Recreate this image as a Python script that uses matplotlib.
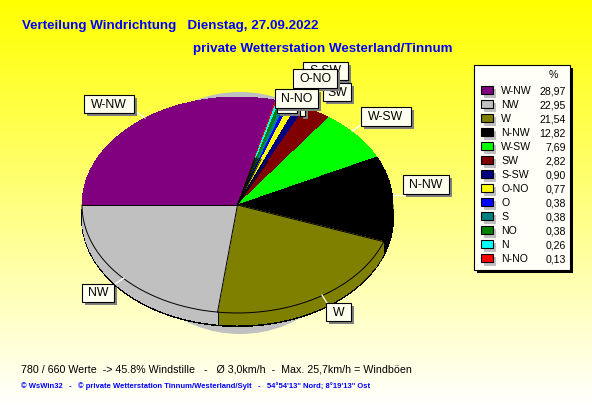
import numpy as np
import matplotlib
matplotlib.use('Agg')
import matplotlib.pyplot as plt
from matplotlib.patches import Rectangle, Ellipse

W, H = 592, 407

directions = ['W-NW', 'NW', 'W', 'N-NW', 'W-SW', 'SW', 'S-SW', 'O-NO', 'O', 'S', 'NO', 'N', 'N-NO']
percent = [28.97, 22.95, 21.54, 12.82, 7.69, 2.82, 0.90, 0.77, 0.38, 0.38, 0.38, 0.26, 0.13]
percent_text = ['28,97', '22,95', '21,54', '12,82', '7,69', '2,82', '0,90', '0,77', '0,38', '0,38', '0,38', '0,26', '0,13']
colors = ['#800080', '#c0c0c0', '#808000', '#000000', '#00ff00', '#800000', '#000080',
          '#ffff00', '#0000ff', '#008080', '#008000', '#00ffff', '#ff0000']

title1 = 'Verteilung Windrichtung   Dienstag, 27.09.2022'
title2 = 'private Wetterstation Westerland/Tinnum'
footer1 = '780 / 660 Werte  -> 45.8% Windstille   -   Ø 3,0km/h  -  Max. 25,7km/h = Windböen'
footer2 = '© WsWin32   -   © private Wetterstation Tinnum/Westerland/Sylt   -   54°54\'13" Nord; 8°19\'13" Ost'

plt.rcParams['font.family'] = ['Liberation Sans', 'DejaVu Sans']

fig = plt.figure(figsize=(W / 100, H / 100), dpi=100)

# background + things behind the pie, in pixel coords
bg = fig.add_axes([0, 0, 1, 1], zorder=0)
bg.set_xlim(0, W)
bg.set_ylim(H, 0)
bg.axis('off')
grad = np.zeros((H, 1, 3))
grad[:, 0, 0] = 1
grad[:, 0, 1] = 1
grad[:, 0, 2] = np.linspace(0, 1, H)
bg.imshow(grad, extent=(0, W, H, 0), aspect='auto', zorder=0)
bg.add_patch(Ellipse((240, 213), 244, 242, fc='#c0c0c0', ec='none', zorder=1))

# pie, squeezed to an ellipse
cx, cy, rx, ry, depth = 237.5, 205, 155.5, 108, 13
pie_ax = fig.add_axes([(cx - rx) / W, 1 - (cy + ry) / H, 2 * rx / W, 2 * ry / H], zorder=1)
order = [0] + list(range(len(percent) - 1, 0, -1))
vals = [percent[i] for i in order]
cols = [colors[i] for i in order]
edge = {'edgecolor': 'black', 'linewidth': 0.7, 'clip_on': False, 'antialiased': False}
flat = {'linewidth': 0, 'clip_on': False, 'antialiased': False}

off = depth / ry
pie_ax.pie(vals, colors=cols, startangle=180, counterclock=False, radius=1,
           center=(0, -off), wedgeprops=edge, frame=False)
for k in range(depth - 1, -1, -1):
    pie_ax.pie(vals, colors=cols, startangle=180, counterclock=False, radius=1,
               center=(0, -k / ry), wedgeprops=flat, frame=False)
pie_ax.set_aspect('auto')
pie_ax.set_xlim(-1, 1)
pie_ax.set_ylim(-1, 1)
pie_ax.axis('off')

# only the lower rim and some radial lines are black, the thin slices would vanish otherwise
t = np.radians(np.linspace(180, 360, 200))
pie_ax.plot(np.cos(t), np.sin(t), color='black', lw=0.7, clip_on=False)

cum = np.cumsum(vals) / np.sum(vals)
angles = 180 - np.concatenate(([0], cum[:-1])) * 360
for i, a in enumerate(angles):
    x, y = np.cos(np.radians(a)), np.sin(np.radians(a))
    thin = vals[i] < 1 or vals[i - 1] < 1
    big = vals[i] > 10 and vals[i - 1] > 10
    if big:
        pie_ax.plot([0, x], [0, y], color='black', lw=0.7, clip_on=False)
    elif thin:
        pie_ax.plot([0, 0.45 * x], [0, 0.45 * y], color='black', lw=0.6, clip_on=False)
    if y < 0:
        pie_ax.plot([x, x], [y, y - off], color='black', lw=0.7, clip_on=False)

ov = fig.add_axes([0, 0, 1, 1], zorder=2)
ov.set_xlim(0, W)
ov.set_ylim(H, 0)
ov.axis('off')
ov.patch.set_alpha(0)

# titles and footer
ov.text(22, 26, title1, color='#0000ff', fontsize=9.6, fontweight='bold', va='center')
ov.text(193, 49, title2, color='#0000ff', fontsize=9.65, fontweight='bold', va='center')
ov.text(21, 369, footer1, color='black', fontsize=7.7, va='center')
ov.text(21, 386, footer2, color='#0000ff', fontsize=5.5, fontweight='bold', va='center')

# white leader lines
leaders = [((134, 110), (145, 118)), ((115, 284), (124, 278)), ((322, 295), (327, 303)),
           ((393, 195), (404, 195)), ((352, 131), (361, 125))]
for p, q in leaders:
    ov.plot([p[0], q[0]], [p[1], q[1]], color='white', lw=0.9, zorder=2)


def callout(x0, y0, x1, y1, text, z):
    ov.add_patch(Rectangle((x0 + 3, y0 + 3), x1 - x0, y1 - y0, fc='#808080', ec='none', zorder=z))
    ov.add_patch(Rectangle((x0, y0), x1 - x0, y1 - y0, fc='#fffff0', ec='black', lw=0.8, zorder=z + 0.1))
    if text:
        ov.text((x0 + x1) / 2, (y0 + y1) / 2 + 0.5, text, fontsize=8.8, ha='center', va='center',
                color='black', zorder=z + 0.2)


callout(84, 95, 134, 113, 'W-NW', 3)
callout(82, 284, 114, 302, 'NW', 3)
callout(326, 303, 351, 321, 'W', 3)
callout(403, 175, 449, 194, 'N-NW', 3)
callout(361, 107, 411, 126, 'W-SW', 3)
callout(303, 62, 348, 80, 'S-SW', 4)
callout(323, 83, 351, 101, 'SW', 5)
callout(300, 100, 305, 116, ' ', 6)
callout(277, 100, 297, 113, ' ', 7)
callout(293, 69, 337, 88, 'O-NO', 8)
callout(275, 89, 318, 108, 'N-NO', 9)

# legend
ov.add_patch(Rectangle((477, 68), 96, 205, fc='black', ec='none', zorder=3))
ov.add_patch(Rectangle((474, 65), 96, 205, fc='#fffff8', ec='black', lw=0.8, zorder=3.1))
ov.text(553, 75, '%', fontsize=7.6, ha='center', va='center', zorder=4)
for i, name in enumerate(directions):
    y = 91 + i * 14
    ov.add_patch(Rectangle((484, y - 2), 12, 9, fc='#c0c0c0', ec='none', zorder=3.5))
    ov.add_patch(Rectangle((481, y - 5), 12, 8, fc=colors[i], ec='black', lw=0.8, zorder=3.6))
    ov.text(501, y, name, fontsize=7.6, va='center', zorder=4)
    ov.text(566, y, percent_text[i], fontsize=7.6, ha='right', va='center', zorder=4)

fig.savefig('out.png', dpi=100)
